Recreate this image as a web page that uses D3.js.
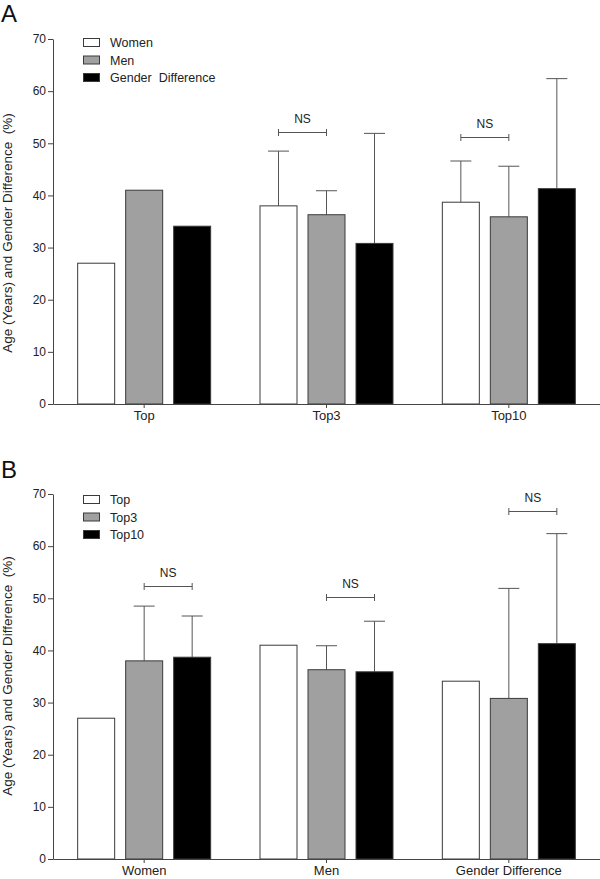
<!DOCTYPE html>
<html>
<head>
<meta charset="utf-8">
<script src="https://cdn.jsdelivr.net/npm/d3@7"></script>
<style>
  body { margin: 0; background: #fff; }
  svg { display: block; font-family: "Liberation Sans", Arial, Helvetica, sans-serif; }
  text { white-space: pre; }
</style>
</head>
<body>
<svg id="chart" width="600" height="879"></svg>
<script>
// ---- data ----
const rankings = ["Top", "Top3", "Top10"];
const sexes = ["Women", "Men", "Gender  Difference"];
const sexGroupLabels = ["Women", "Men", "Gender Difference"];
// mean values by ranking (Top, Top3, Top10)
const womenMean = [27.0, 38.0, 38.7];
const menMean = [41.0, 36.3, 35.9];
const diffMean = [34.1, 30.8, 41.3];
// upper SD by ranking
const womenSD = [0, 10.5, 7.9];
const menSD = [0, 4.6, 9.7];
const diffSD = [0, 21.1, 21.1];
const yTicks = [0, 10, 20, 30, 40, 50, 60, 70];
const yTitle = "Age (Years) and Gender Difference  (%)";
// NS brackets: panel A (between Women and Men within ranking), level in data units
const nsA = [{ group: "Top3", from: 0, to: 1, level: 52.2 }, { group: "Top10", from: 0, to: 1, level: 51.2 }];
// panel B (between Top3 and Top10 within sex)
const nsB = [{ group: 0, from: 1, to: 2, level: 52.4 }, { group: 1, from: 1, to: 2, level: 50.3 }, { group: 2, from: 1, to: 2, level: 66.7 }];

const fills = ["#ffffff", "#a0a0a0", "#000000"];
const means = [womenMean, menMean, diffMean];
const sds = [womenSD, menSD, diffSD];

const svg = d3.select("#chart");
const axisColor = "#444";
const textColor = "#222";

function drawPanel(opts) {
  const g = svg.append("g");
  const y = d3.scaleLinear().domain([0, 70]).range([opts.y0, opts.y0 - 365]);
  const x0 = d3.scaleBand().domain(opts.groups).range([53, 600]).paddingInner(0).paddingOuter(0);
  const bw = x0.bandwidth();
  const x1 = d3.scaleBand().domain(opts.series).range([bw / 2 - 67, bw / 2 + 67]).paddingInner(10 / 48).paddingOuter(0);

  // bars
  opts.groups.forEach((grp, gi) => {
    opts.series.forEach((s, si) => {
      const v = opts.value(gi, si);
      const sd = opts.sd(gi, si);
      const bx = x0(grp) + x1(s);
      const w = x1.bandwidth();
      if (sd > 0) {
        const cx = bx + w / 2;
        g.append("line").attr("x1", cx).attr("x2", cx).attr("y1", y(v)).attr("y2", y(v + sd))
          .attr("stroke", "#555").attr("stroke-width", 1);
        g.append("line").attr("x1", cx - 10.5).attr("x2", cx + 10.5).attr("y1", y(v + sd)).attr("y2", y(v + sd))
          .attr("stroke", "#555").attr("stroke-width", 1);
      }
      g.append("rect").attr("x", bx + 0.5).attr("y", y(v)).attr("width", w - 1).attr("height", y(0) - y(v))
        .attr("fill", fills[si]).attr("stroke", "#3a3a3a").attr("stroke-width", 1);
    });
  });

  // NS brackets
  opts.ns.forEach(b => {
    const grp = typeof b.group === "number" ? opts.groups[b.group] : b.group;
    const xa = x0(grp) + x1(opts.series[b.from]) + x1.bandwidth() / 2;
    const xb = x0(grp) + x1(opts.series[b.to]) + x1.bandwidth() / 2;
    const yy = Math.round(y(b.level)) + 0.5;
    g.append("path").attr("d", `M${xa},${yy - 3.5}V${yy + 3.5}M${xa},${yy}H${xb}M${xb},${yy - 3.5}V${yy + 3.5}`)
      .attr("fill", "none").attr("stroke", "#555").attr("stroke-width", 1);
    g.append("text").attr("x", (xa + xb) / 2).attr("y", yy - 10).attr("text-anchor", "middle")
      .attr("font-size", 12).attr("fill", textColor).text("NS");
  });

  // y axis
  const ya = g.append("g").attr("transform", "translate(53,0)")
    .call(d3.axisLeft(y).tickValues(yTicks).tickSize(5).tickSizeOuter(0).tickPadding(2));
  ya.select(".domain").attr("stroke", axisColor);
  ya.selectAll(".tick line").attr("stroke", axisColor);
  ya.selectAll(".tick text").attr("font-size", 12).attr("fill", textColor).attr("font-family", null);

  // x axis
  const xa = g.append("g").attr("transform", `translate(0,${y(0)})`)
    .call(d3.axisBottom(x0).tickSize(4).tickSizeOuter(0).tickPadding(3).tickFormat((d, i) => opts.groupLabels[i]));
  xa.select(".domain").attr("stroke", axisColor);
  xa.selectAll(".tick line").attr("stroke", axisColor);
  xa.selectAll(".tick text").attr("font-size", 13).attr("fill", textColor).attr("font-family", null);

  // y title
  g.append("text").attr("transform", `translate(12,${opts.titleY}) rotate(-90)`).attr("text-anchor", "middle")
    .attr("font-size", 13.5).attr("fill", textColor).text(yTitle);

  // panel label
  g.append("text").attr("x", 1).attr("y", opts.labelY).attr("font-size", 24).attr("fill", "#111").text(opts.label);

  // legend
  opts.series.forEach((s, si) => {
    const ly = opts.legendY + si * 17.5;
    g.append("rect").attr("x", 83.5).attr("y", ly + 0.5).attr("width", 16).attr("height", 8)
      .attr("fill", fills[si]).attr("stroke", "#3a3a3a").attr("stroke-width", 1);
    g.append("text").attr("x", 110).attr("y", ly + 9).attr("font-size", 12.5).attr("fill", textColor).text(s);
  });
}

drawPanel({
  y0: 404, groups: rankings, groupLabels: rankings, series: sexes,
  value: (gi, si) => means[si][gi], sd: (gi, si) => sds[si][gi],
  ns: nsA, titleY: 233, label: "A", labelY: 22, legendY: 38
});
drawPanel({
  y0: 859, groups: sexGroupLabels, groupLabels: sexGroupLabels, series: rankings,
  value: (gi, si) => means[gi][si], sd: (gi, si) => sds[gi][si],
  ns: nsB, titleY: 676, label: "B", labelY: 478, legendY: 495
});
</script>
</body>
</html>
